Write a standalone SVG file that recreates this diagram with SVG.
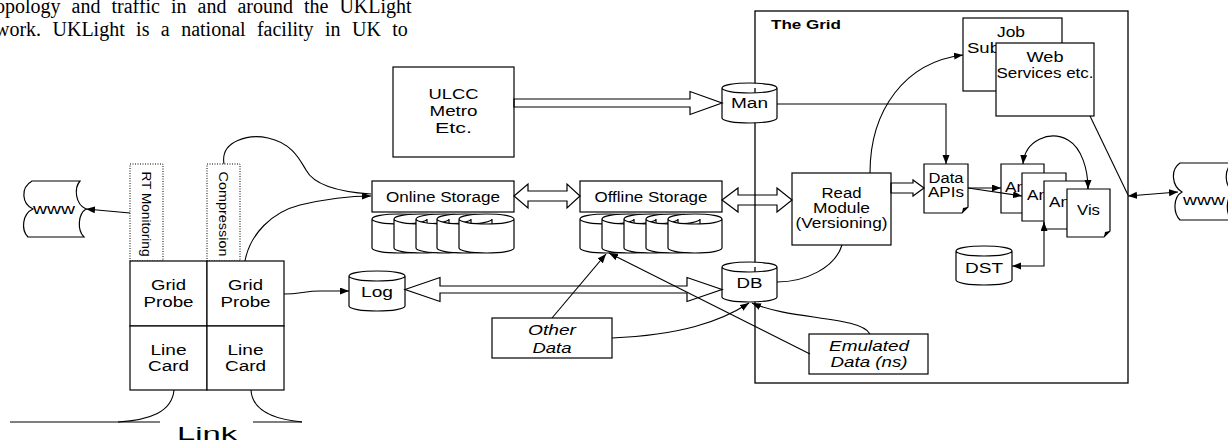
<svg xmlns="http://www.w3.org/2000/svg" width="1228" height="444" viewBox="0 0 1228 444">
<style>
.bg{fill:#fff}
.box{fill:#fff;stroke:#000;stroke-width:1.2}
.dot{fill:#fff;stroke:#000;stroke-width:1;stroke-dasharray:1 1.5}
.ln{fill:none;stroke:#000;stroke-width:1.1}
.hol{fill:none;stroke:#000;stroke-width:1.2;stroke-linejoin:miter}
.t{font-family:"Liberation Sans",Arial,sans-serif;font-size:14px;fill:#000;text-anchor:middle}
.ts{text-anchor:start}
.it{font-style:italic}
.para{font-family:"Liberation Serif","Times New Roman",serif;font-size:20px;fill:#000}
</style>
<defs>
<marker id="ah" markerWidth="10" markerHeight="8" refX="9" refY="3.5" orient="auto-start-reverse" markerUnits="userSpaceOnUse">
<path d="M0,0 L9,3.5 L0,7 Z" fill="#000"/>
</marker>
</defs>
<rect class="bg" x="0" y="0" width="1228" height="444"/>

<g id="paragraph">
<text class="para" x="-10.5" y="13" word-spacing="6">topology and traffic in and around the UKLight</text>
<text class="para" x="-5" y="36" word-spacing="6.4">work. UKLight is a national facility in UK to</text>
</g>

<g id="grid">
<rect x="755" y="11" width="373" height="372" fill="none" stroke="#000" stroke-width="1.3"/>
<text class="t ts" x="771" y="29" style="font-weight:bold;font-size:12px" textLength="70" lengthAdjust="spacingAndGlyphs">The Grid</text>
</g>

<g id="www-left">
<path class="box" d="M32,181 H80 C74,188 75,204 86,209 C78,214 77,230 84,237 H28 C21,230 22,214 33,209 C22,204 20,188 32,181 Z"/>
<text class="t" x="54" y="214" textLength="42" lengthAdjust="spacingAndGlyphs">www</text>
</g>

<g id="www-right">
<path class="box" d="M1180,163 H1232 C1224,170 1224,186 1234,192 C1226,197 1225,213 1232,220 H1180 C1173,213 1173,197 1182,192 C1172,186 1170,170 1180,163 Z"/>
<text class="t ts" x="1183" y="205" textLength="42" lengthAdjust="spacingAndGlyphs">www</text>
</g>

<g id="rt-monitoring">
<rect class="dot" x="130" y="164" width="33" height="97"/>
<text class="t" transform="translate(142,214) rotate(90)" style="font-size:12px" textLength="85" lengthAdjust="spacingAndGlyphs">RT Monitoring</text>
</g>

<g id="compression">
<rect class="dot" x="207" y="164" width="33" height="97"/>
<text class="t" transform="translate(219,214) rotate(90)" style="font-size:12px" textLength="85" lengthAdjust="spacingAndGlyphs">Compression</text>
</g>

<g id="grid-probe-1">
<rect class="box" x="130" y="261" width="77" height="65"/>
<text class="t" x="168.5" y="290" textLength="35" lengthAdjust="spacingAndGlyphs">Grid</text>
<text class="t" x="168.5" y="307" textLength="50" lengthAdjust="spacingAndGlyphs">Probe</text>
</g>
<g id="grid-probe-2">
<rect class="box" x="207" y="261" width="77" height="65"/>
<text class="t" x="245.5" y="290" textLength="35" lengthAdjust="spacingAndGlyphs">Grid</text>
<text class="t" x="245.5" y="307" textLength="50" lengthAdjust="spacingAndGlyphs">Probe</text>
</g>
<g id="line-card-1">
<rect class="box" x="130" y="326" width="77" height="64"/>
<text class="t" x="168.5" y="355" textLength="36" lengthAdjust="spacingAndGlyphs">Line</text>
<text class="t" x="168.5" y="371" textLength="41" lengthAdjust="spacingAndGlyphs">Card</text>
</g>
<g id="line-card-2">
<rect class="box" x="207" y="326" width="77" height="64"/>
<text class="t" x="245.5" y="355" textLength="36" lengthAdjust="spacingAndGlyphs">Line</text>
<text class="t" x="245.5" y="371" textLength="41" lengthAdjust="spacingAndGlyphs">Card</text>
</g>

<g id="link">
<path class="ln" d="M10,422 H160 M253,422 H302"/>
<path class="ln" d="M174,390 C172,412 150,420 118,422"/>
<path class="ln" d="M251,390 C252,408 270,419 302,422"/>
<text class="t" x="207" y="440" style="font-size:18px" textLength="60" lengthAdjust="spacingAndGlyphs">Link</text>
</g>

<g id="ulcc">
<rect class="box" x="393" y="67" width="121" height="90"/>
<text class="t" x="453.5" y="99" textLength="50" lengthAdjust="spacingAndGlyphs">ULCC</text>
<text class="t" x="453.5" y="116" textLength="48" lengthAdjust="spacingAndGlyphs">Metro</text>
<text class="t" x="453.5" y="133" textLength="37" lengthAdjust="spacingAndGlyphs">Etc.</text>
</g>

<g id="online-storage">
<path class="box" d="M372,219 A27.5,5 0 0 1 427,219 V248 A27.5,5 0 0 1 372,248 Z M372,219 A27.5,5 0 0 0 427,219"/>
<path class="box" d="M394,219 A27.5,5 0 0 1 449,219 V248 A27.5,5 0 0 1 394,248 Z M394,219 A27.5,5 0 0 0 449,219"/>
<path class="box" d="M416,219 A27.5,5 0 0 1 471,219 V248 A27.5,5 0 0 1 416,248 Z M416,219 A27.5,5 0 0 0 471,219"/>
<path class="box" d="M437,219 A27.5,5 0 0 1 492,219 V248 A27.5,5 0 0 1 437,248 Z M437,219 A27.5,5 0 0 0 492,219"/>
<path class="box" d="M459,219 A27.5,5 0 0 1 514,219 V248 A27.5,5 0 0 1 459,248 Z M459,219 A27.5,5 0 0 0 514,219"/>
<rect class="box" x="372" y="181" width="142" height="31"/>
<text class="t" x="443" y="202" textLength="114" lengthAdjust="spacingAndGlyphs">Online Storage</text>
</g>

<g id="offline-storage">
<path class="box" d="M580,219 A27,5 0 0 1 634,219 V248 A27,5 0 0 1 580,248 Z M580,219 A27,5 0 0 0 634,219"/>
<path class="box" d="M602,219 A27,5 0 0 1 656,219 V248 A27,5 0 0 1 602,248 Z M602,219 A27,5 0 0 0 656,219"/>
<path class="box" d="M624,219 A27,5 0 0 1 678,219 V248 A27,5 0 0 1 624,248 Z M624,219 A27,5 0 0 0 678,219"/>
<path class="box" d="M646,219 A27,5 0 0 1 700,219 V248 A27,5 0 0 1 646,248 Z M646,219 A27,5 0 0 0 700,219"/>
<path class="box" d="M668,219 A27,5 0 0 1 722,219 V248 A27,5 0 0 1 668,248 Z M668,219 A27,5 0 0 0 722,219"/>
<rect class="box" x="580" y="181" width="142" height="31"/>
<text class="t" x="651" y="202" textLength="113" lengthAdjust="spacingAndGlyphs">Offline Storage</text>
</g>

<g id="man">
<path class="box" d="M722,88 A27.5,5 0 0 1 777,88 V118 A27.5,5 0 0 1 722,118 Z M722,88 A27.5,5 0 0 0 777,88"/>
<text class="t" x="749.5" y="108" textLength="37" lengthAdjust="spacingAndGlyphs">Man</text>
</g>

<g id="db">
<path class="box" d="M722,267 A27.5,5 0 0 1 777,267 V297 A27.5,5 0 0 1 722,297 Z M722,267 A27.5,5 0 0 0 777,267"/>
<text class="t" x="749.5" y="288" textLength="26" lengthAdjust="spacingAndGlyphs">DB</text>
</g>

<g id="log">
<path class="box" d="M349,276 A28,5 0 0 1 405,276 V306 A28,5 0 0 1 349,306 Z M349,276 A28,5 0 0 0 405,276"/>
<text class="t" x="377" y="297" textLength="32" lengthAdjust="spacingAndGlyphs">Log</text>
</g>

<g id="dst">
<path class="box" d="M956,251 A28,5 0 0 1 1012,251 V280 A28,5 0 0 1 956,280 Z M956,251 A28,5 0 0 0 1012,251"/>
<text class="t" x="984" y="273" textLength="38" lengthAdjust="spacingAndGlyphs">DST</text>
</g>

<g id="read-module">
<rect class="box" x="792" y="173" width="99" height="72"/>
<text class="t" x="841.5" y="198" textLength="40" lengthAdjust="spacingAndGlyphs">Read</text>
<text class="t" x="841.5" y="213" textLength="57" lengthAdjust="spacingAndGlyphs">Module</text>
<text class="t" x="841.5" y="228" textLength="92" lengthAdjust="spacingAndGlyphs">(Versioning)</text>
</g>

<g id="data-apis">
<path class="box" d="M924,164 H968 V207 L962,213 H924 Z"/>
<path d="M962,213 L963,208 L968,207 Z" fill="#000"/>
<text class="t" x="946" y="183" textLength="35" lengthAdjust="spacingAndGlyphs">Data</text>
<text class="t" x="946" y="197" textLength="36" lengthAdjust="spacingAndGlyphs">APIs</text>
</g>

<g id="job-submission">
<rect class="box" x="963" y="18" width="99" height="73"/>
<text class="t" x="1011" y="37" textLength="28" lengthAdjust="spacingAndGlyphs">Job</text>
<text class="t ts" x="967" y="53" textLength="33" lengthAdjust="spacingAndGlyphs">Sub</text>
</g>

<g id="web-services">
<rect class="box" x="996" y="43" width="98" height="73"/>
<text class="t" x="1045" y="62" textLength="37" lengthAdjust="spacingAndGlyphs">Web</text>
<text class="t" x="1045" y="78" textLength="97" lengthAdjust="spacingAndGlyphs">Services etc.</text>
</g>

<g id="analysis-1">
<path class="box" d="M1001,164 H1044 V207 L1038,213 H1001 Z"/>
<text class="t ts" x="1005" y="192" textLength="21" lengthAdjust="spacingAndGlyphs">An</text>
</g>
<g id="analysis-2">
<path class="box" d="M1022,173 H1066 V215 L1060,221 H1022 Z"/>
<text class="t ts" x="1027" y="200" textLength="21" lengthAdjust="spacingAndGlyphs">An</text>
</g>
<g id="analysis-3">
<path class="box" d="M1044,181 H1088 V223 L1082,229 H1044 Z"/>
<text class="t ts" x="1049" y="207" textLength="21" lengthAdjust="spacingAndGlyphs">An</text>
</g>
<g id="vis">
<path class="box" d="M1067,189 H1110 V231 L1104,237 H1067 Z"/>
<path d="M1104,237 L1105,232 L1110,231 Z" fill="#000"/>
<text class="t" x="1088.5" y="215" textLength="23" lengthAdjust="spacingAndGlyphs">Vis</text>
</g>

<g id="other-data">
<rect class="box" x="492" y="318" width="120" height="40"/>
<text class="t it" x="552" y="335" textLength="48" lengthAdjust="spacingAndGlyphs">Other</text>
<text class="t it" x="552" y="353" textLength="39" lengthAdjust="spacingAndGlyphs">Data</text>
</g>

<g id="emulated-data">
<rect class="box" x="809" y="334" width="119" height="40"/>
<text class="t it" x="869" y="351" textLength="80" lengthAdjust="spacingAndGlyphs">Emulated</text>
<text class="t it" x="869" y="367" textLength="77" lengthAdjust="spacingAndGlyphs">Data (ns)</text>
</g>

<g id="connectors">
<polygon class="hol" points="514,103 514,99 690,99 690,91.5 722,103 690,114.5 690,107 514,107"/>
<polygon class="hol" points="514,196 528,184 528,191 567,191 567,184 580,196 567,208 567,201 528,201 528,208"/>
<polygon class="hol" points="722,200 738,188 738,195 777,195 777,188 792,200 777,212 777,205 738,205 738,212"/>
<polygon class="hol" points="405,289.5 440,277.5 440,286 687,286 687,277.5 722,289.5 687,301.5 687,293 440,293 440,301.5"/>
<polygon class="hol" points="891,183 913,183 913,180 924,188 913,196 913,193 891,193"/>
<path class="ln" d="M130,213 L86,209" marker-end="url(#ah)"/>
<path class="ln" d="M224,164 C220,140 250,134 268,138 C292,143 300,160 306,170 C314,185 340,192 371,194"/>
<path class="ln" d="M245,261 C250,234 272,212 300,205 C330,198 350,196 371,196" marker-end="url(#ah)"/>
<path class="ln" d="M284,294 C300,294 305,291 320,291 H349" marker-end="url(#ah)"/>
<path class="ln" d="M777,104 H946 V164" marker-end="url(#ah)"/>
<path class="ln" d="M870,173 C870,110 905,62 963,55" marker-end="url(#ah)"/>
<path class="ln" d="M842,245 C835,268 805,282 777,282"/>
<path class="ln" d="M1090,116 L1128,195"/>
<path class="ln" d="M1128,196 L1178,192" marker-start="url(#ah)" marker-end="url(#ah)"/>
<path class="ln" d="M968,188 L1001,188" marker-end="url(#ah)"/>
<path class="ln" d="M968,188 L1022,196" marker-end="url(#ah)"/>
<path class="ln" d="M1023,164 C1025,140 1050,130 1068,140 C1082,148 1088,170 1088,189" marker-start="url(#ah)" marker-end="url(#ah)"/>
<path class="ln" d="M1012,266 H1044 V222" marker-start="url(#ah)" marker-end="url(#ah)"/>
<path class="ln" d="M552,318 L606,254" marker-end="url(#ah)"/>
<path class="ln" d="M810,354 L609,253" marker-end="url(#ah)"/>
<path class="ln" d="M612,338 C680,335 720,322 749,303" marker-end="url(#ah)"/>
<path class="ln" d="M870,334 C860,316 790,320 752,303" marker-end="url(#ah)"/>
</g>
</svg>
